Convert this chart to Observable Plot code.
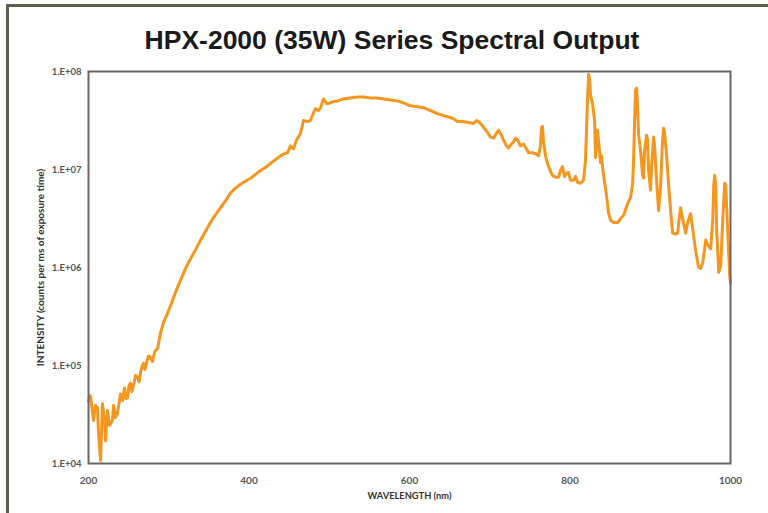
<!DOCTYPE html>
<html>
<head>
<meta charset="utf-8">
<script src="https://cdn.jsdelivr.net/npm/d3@7"></script>
<script src="https://cdn.jsdelivr.net/npm/@observablehq/plot@0.6"></script>
<style>
  html, body { margin: 0; padding: 0; background: #fff; }
  #wrap { position: relative; width: 768px; height: 513px; overflow: hidden; background: #fff; }
  #border { position: absolute; left: 6px; top: 4px; width: 800px; height: 600px;
            border-top: 3px solid #5b5f4b; border-left: 3px solid #5b5f4b; box-sizing: border-box; }
  #title { position: absolute; left: 0; width: 784px; top: 27px; text-align: center;
           font-family: "Liberation Sans", Arial, sans-serif; font-weight: bold; font-size: 26.5px;
           color: #1a1a1a; line-height: 1; }
  #chart { position: absolute; left: 0; top: 0; }
</style>
</head>
<body>
<div id="wrap">
  <div id="border"></div>
  <div id="chart"></div>
  <div id="title">HPX-2000 (35W) Series Spectral Output</div>
</div>
<script>
// Wavelength (nm)
const wavelength = [
  200, 202.5, 206.2, 208.7, 211.2, 212.5, 215.0, 217.4, 219.9, 221.2, 223.7, 226.2, 229.9, 231.2, 233.6, 236.1,
  239.9, 242.4, 244.9, 246.7, 248.6, 250.4, 252.3, 254.2, 256.1, 258.6, 261.1, 263.0, 264.8, 266.7, 268.5, 270.4,
  272.3, 274.8, 277.3, 279.8, 282.2, 284.1, 286.0, 289.7, 293.5, 298.4,
  302.2, 305.9, 310.9, 314.6, 320.9, 327.1, 333.3, 339.6, 345.8, 352.0, 358.3, 364.5, 370.7, 377.0, 383.2, 389.4,
  395.6, 401.9, 408.1, 414.3, 420.6, 426.8, 433.0, 439.3, 444.2, 448.0, 451.7, 455.5, 459.2, 464.2, 467.9, 472.9,
  476.6, 480.4, 482.9, 486.6, 489.1, 492.8, 495.3, 497.8, 504.0, 510.3, 517.8, 526.5, 535.2, 542.7, 551.4, 560.1,
  567.6, 576.3, 585.0, 592.5, 601.2, 610.0, 617.4, 626.2, 634.9, 642.4, 651.1, 656.1, 659.8, 666.0, 673.5, 679.8,
  683.5, 686.0, 688.5, 692.2, 697.2, 700.9, 704.7, 708.4, 710.9, 714.6, 717.1, 720.9, 723.4, 727.1, 729.6, 732.1,
  734.6, 738.3, 742.1, 745.8, 748.3, 753.3, 757.0, 760.8, 763.2, 764.5, 765.7, 767.0, 769.5, 772.0, 775.7, 778.2,
  781.9, 785.7, 788.2, 790.6, 793.1, 795.6, 798.1, 800.6, 804.4, 806.9, 809.4, 813.1, 816.8, 819.3, 821.8, 823.1,
  824.3, 825.6, 828.1, 830.6, 831.8, 833.1, 834.3, 835.6, 838.1, 839.3, 840.6, 843.1, 845.6, 848.0, 850.5, 854.3,
  859.3, 863.0, 866.7, 871.7, 875.5, 878.0, 879.2, 880.5, 881.7, 883.0, 884.2, 885.5, 888.0, 890.4, 891.7, 892.9,
  895.4, 896.7, 897.9, 900.4, 901.7, 904.2, 905.4, 907.9, 910.4, 912.9, 915.4, 916.6, 917.9, 920.4, 922.9, 925.4,
  927.9, 931.6, 934.1, 936.6, 937.8, 940.3, 944.1, 946.6, 950.3, 952.8, 956.6, 960.3, 962.8, 965.3, 967.8, 969.1,
  971.5, 975.3, 977.8, 979.1, 980.3, 981.6, 982.8, 985.3, 987.8, 990.3, 992.8, 994.0, 996.5, 999.0, 1000
];
// Intensity (counts per ms of exposure time)
const intensity = [
  4.37e4, 4.9e4, 2.75e4, 3.9e4, 3.7e4, 2.04e4, 1.07e4, 4.07e4, 2.75e4, 1.7e4, 3.47e4, 2.45e4, 2.75e4, 3.9e4, 2.95e4, 3.24e4,
  5.13e4, 4.37e4, 5.9e4, 4.6e4, 4.68e4, 6.2e4, 6.6e4, 5.4e4, 6.3e4, 7.9e4, 7.6e4, 6.8e4, 8.5e4, 9.8e4, 1.05e5, 9.1e4,
  1.07e5, 1.25e5, 1.2e5, 1.1e5, 1.35e5, 1.45e5, 1.48e5, 2.14e5, 2.75e5, 3.39e5,
  4.07e5, 4.9e5, 6.3e5, 7.4e5, 9.8e5, 1.23e6, 1.51e6, 1.9e6, 2.34e6, 2.88e6, 3.47e6, 4.07e6, 4.79e6, 5.75e6, 6.46e6, 7.08e6,
  7.59e6, 8.13e6, 8.91e6, 9.77e6, 1.05e7, 1.15e7, 1.26e7, 1.38e7, 1.45e7, 1.48e7, 1.74e7, 1.62e7, 2.0e7, 2.34e7, 3.16e7, 3.09e7,
  3.16e7, 3.8e7, 4.17e7, 3.98e7, 4.27e7, 5.25e7, 4.9e7, 4.68e7, 4.9e7, 5.01e7, 5.25e7, 5.37e7, 5.5e7, 5.5e7, 5.37e7, 5.37e7,
  5.25e7, 5.13e7, 5.01e7, 4.79e7, 4.47e7, 4.37e7, 4.27e7, 3.98e7, 3.72e7, 3.55e7, 3.39e7, 3.24e7, 3.09e7, 3.09e7, 3.02e7, 2.95e7,
  3.16e7, 3.09e7, 2.95e7, 2.69e7, 2.4e7, 2.14e7, 2.09e7, 2.34e7, 2.51e7, 2.24e7, 2.0e7, 1.74e7, 1.66e7, 1.82e7, 1.91e7, 2.09e7,
  2.0e7, 1.74e7, 1.82e7, 1.62e7, 1.48e7, 1.48e7, 1.45e7, 1.38e7, 1.74e7, 2.69e7, 2.75e7, 1.91e7, 1.38e7, 1.15e7, 9.55e6, 8.71e6,
  8.32e6, 8.32e6, 9.77e6, 1.07e7, 8.51e6, 9.12e6, 9.33e6, 7.76e6, 7.76e6, 8.51e6, 7.41e6, 7.24e6, 7.76e6, 1.23e7, 5.01e7, 9.33e7,
  8.51e7, 5.75e7, 4.68e7, 3.16e7, 1.32e7, 1.74e7, 2.51e7, 1.95e7, 1.17e7, 1.38e7, 1.05e7, 7.41e6, 5.37e6, 3.63e6, 3.02e6, 2.88e6,
  2.88e6, 3.16e6, 3.39e6, 4.47e6, 5.25e6, 7.08e6, 1.23e7, 3.16e7, 6.46e7, 6.76e7, 4.47e7, 2.24e7, 1.55e7, 8.71e6, 8.13e6, 1.55e7,
  2.24e7, 2.0e7, 9.77e6, 6.17e6, 1.1e7, 2.14e7, 1.74e7, 7.76e6, 3.8e6, 6.76e6, 2.0e7, 2.63e7, 2.34e7, 1.38e7, 6.92e6, 3.8e6,
  2.24e6, 2.19e6, 2.24e6, 3.39e6, 4.07e6, 3.16e6, 2.24e6, 2.88e6, 3.55e6, 2.51e6, 1.48e6, 1.0e6, 9.77e5, 1.12e6, 1.55e6, 1.91e6,
  1.7e6, 1.55e6, 3.02e6, 6.92e6, 8.71e6, 6.92e6, 2.4e6, 8.91e5, 1.05e6, 3.02e6, 7.24e6, 6.92e6, 2.4e6, 8.32e5, 6.92e5
];
const xTicks = [200, 400, 600, 800, 1000];
const yTicks = [1e4, 1e5, 1e6, 1e7, 1e8];
const yTickLabels = ["1.E+04", "1.E+05", "1.E+06", "1.E+07", "1.E+08"];
const xLabel = "WAVELENGTH (nm)";
const yLabel = "INTENSITY (counts per ms of exposure time)";

const data = wavelength.map((w, i) => ({w, v: intensity[i]}));

const chart = Plot.plot({
  width: 768,
  height: 513,
  marginLeft: 88,
  marginRight: 38,
  marginTop: 71,
  marginBottom: 50,
  style: {fontFamily: "Lato, 'Open Sans', sans-serif", background: "transparent", overflow: "visible"},
  x: {domain: [200, 1000]},
  y: {type: "log", domain: [1e4, 1e8]},
  marks: [
    Plot.line(data, {x: "w", y: "v", stroke: "#f5961f", strokeWidth: 3, strokeLinejoin: "round"}),
    Plot.frame({stroke: "#6a6464", strokeWidth: 2}),
    Plot.axisX({ticks: xTicks, tickSize: 0, tickPadding: 13, tickFormat: d => String(d),
      fontSize: 10, fontWeight: "bold", fill: "#555", label: null}),
    Plot.axisY({ticks: yTicks, tickSize: 0, tickPadding: 7, tickFormat: d => yTickLabels[yTicks.indexOf(d)],
      fontSize: 9.5, fontWeight: "bold", fill: "#555", label: null}),
    Plot.text([xLabel], {frameAnchor: "bottom", dy: 35, fontSize: 9.3, fontWeight: "bold", fill: "#333", textAnchor: "middle"}),
    Plot.text([yLabel], {frameAnchor: "left", dx: -48, rotate: -90, fontSize: 10, fontWeight: "bold", fill: "#333", textAnchor: "middle"})
  ]
});
document.getElementById("chart").appendChild(chart);
</script>
</body>
</html>
